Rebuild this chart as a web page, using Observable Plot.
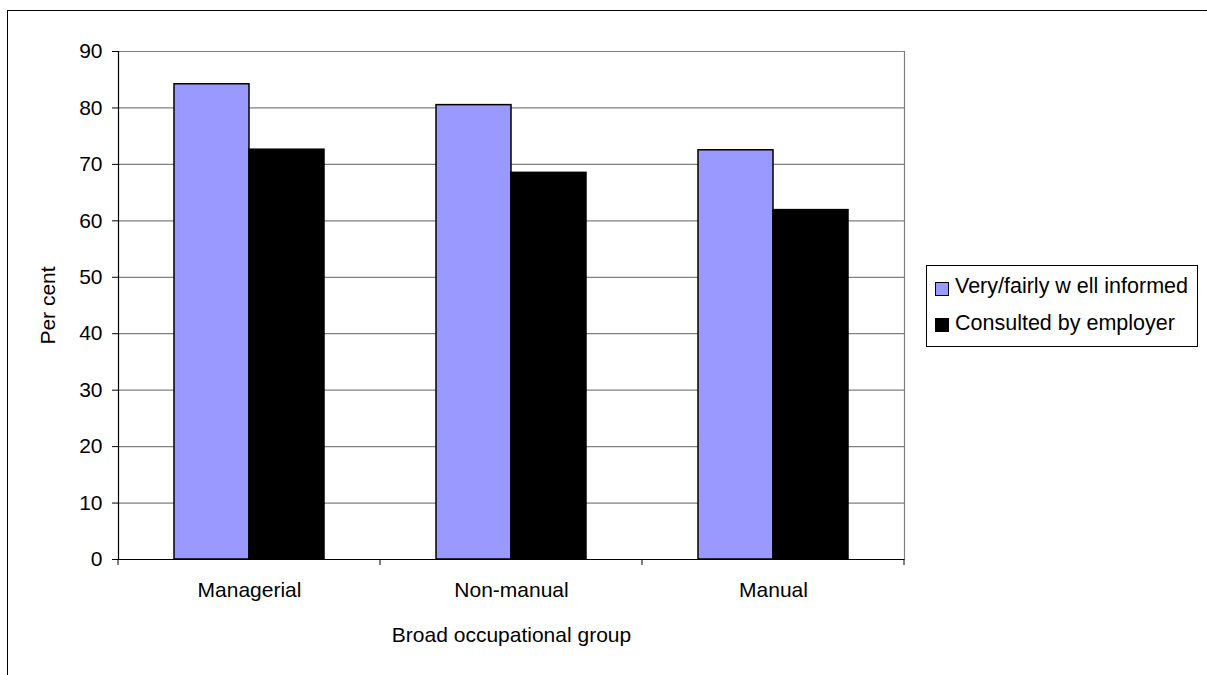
<!DOCTYPE html>
<html>
<head>
<meta charset="utf-8">
<script src="https://cdn.jsdelivr.net/npm/d3@7"></script>
<script src="https://cdn.jsdelivr.net/npm/@observablehq/plot@0.6"></script>
<style>
  html, body { margin: 0; padding: 0; background: #fff; overflow: hidden; }
  body { width: 1207px; height: 675px; position: relative; font-family: "Liberation Sans", Arial, sans-serif; }
  #border { position: absolute; left: 7px; top: 10px; width: 1400px; height: 900px; border: 1px solid #000; box-sizing: border-box; }
  #chart { position: absolute; left: 0; top: 0; }
  #legend { position: absolute; left: 926px; top: 265px; width: 272px; height: 82px; border: 1px solid #000; box-sizing: border-box; background: #fff; font-size: 21.5px; color: #000; }
  .sw { position: absolute; width: 14px; height: 14px; border: 1px solid #000; box-sizing: border-box; }
  .lt { position: absolute; white-space: nowrap; line-height: 22px; }
</style>
</head>
<body>
<div id="border"></div>
<div id="chart"></div>
<div id="legend"></div>
<script>
// ---- data ----
const groups = ["Managerial", "Non-manual", "Manual"];
const series = ["Very/fairly w ell informed", "Consulted by employer"];
const informed = [84.2, 80.5, 72.5];
const consulted = [72.6, 68.5, 61.9];
const colors = ["#9999FF", "#000000"];
const yTicks = [0, 10, 20, 30, 40, 50, 60, 70, 80, 90];
const xTitle = "Broad occupational group";
const yTitle = "Per cent";

const rows = [];
groups.forEach((g, i) => {
  rows.push({group: g, series: series[0], value: informed[i]});
  rows.push({group: g, series: series[1], value: consulted[i]});
});

const W = 1207, H = 675;
const mL = 117, mR = 303, mT = 51, mB = 116;

// short tick marks at the category boundaries, below the baseline
const boundaryTicks = Plot.frame({
  facet: "super",
  render(index, scales, values, dimensions) {
    const y0 = scales.y ? scales.y(0) : dimensions.height - dimensions.marginBottom;
    let xs;
    if (scales.fx) {
      const fx = scales.fx;
      xs = groups.map(g => fx(g));
      xs.push(fx(groups[groups.length - 1]) + fx.bandwidth());
    } else {
      const w = (dimensions.width - dimensions.marginLeft - dimensions.marginRight) / groups.length;
      xs = d3.range(groups.length + 1).map(i => dimensions.marginLeft + i * w);
    }
    const g = d3.create("svg:g");
    g.selectAll("line").data(xs).join("line")
      .attr("x1", d => d).attr("x2", d => d)
      .attr("y1", y0).attr("y2", y0 + 6)
      .attr("stroke", "black");
    return g.node();
  }
});

const chart = Plot.plot({
  width: W, height: H,
  marginLeft: mL, marginRight: mR, marginTop: mT, marginBottom: mB,
  style: {fontFamily: "'Liberation Sans', Arial, sans-serif", fontSize: "21px", background: "transparent", color: "black", overflow: "visible"},
  fx: {domain: groups, padding: 0},
  x: {domain: series, paddingInner: 0, paddingOuter: 0.733, axis: null},
  y: {domain: [0, 90]},
  color: {domain: series, range: colors},
  marks: [
    Plot.ruleY(yTicks.filter(t => t > 0), {stroke: "#808080", strokeWidth: 1.2}),
    Plot.barY(rows, {fx: "group", x: "series", y: "value", fill: "series", stroke: "black", strokeWidth: 1.5}),
    Plot.frame({anchor: "right", facet: "super", stroke: "#808080", strokeWidth: 1.2}),
    Plot.frame({anchor: "left", facet: "super", stroke: "black", strokeWidth: 1.2}),
    Plot.ruleY([0], {stroke: "black", strokeWidth: 1.2}),
    Plot.axisY({ticks: yTicks, tickSize: 6, tickPadding: 10, label: yTitle, labelAnchor: "center", labelOffset: 78, labelArrow: "none"}),
    Plot.axisFx({anchor: "bottom", tickSize: 0, tickPadding: 23, label: xTitle, labelAnchor: "center", labelOffset: 82, labelArrow: "none"}),
    boundaryTicks
  ]
});
document.getElementById("chart").appendChild(chart);

// ---- legend ----
const legend = document.getElementById("legend");
const swTop = [16, 52];
const txTop = [9, 46];
series.forEach((s, i) => {
  const sw = document.createElement("div");
  sw.className = "sw";
  sw.style.left = "8px";
  sw.style.top = swTop[i] + "px";
  sw.style.background = colors[i];
  legend.appendChild(sw);
  const t = document.createElement("div");
  t.className = "lt";
  t.style.left = "28px";
  t.style.top = txTop[i] + "px";
  t.textContent = s;
  legend.appendChild(t);
});
</script>
</body>
</html>
